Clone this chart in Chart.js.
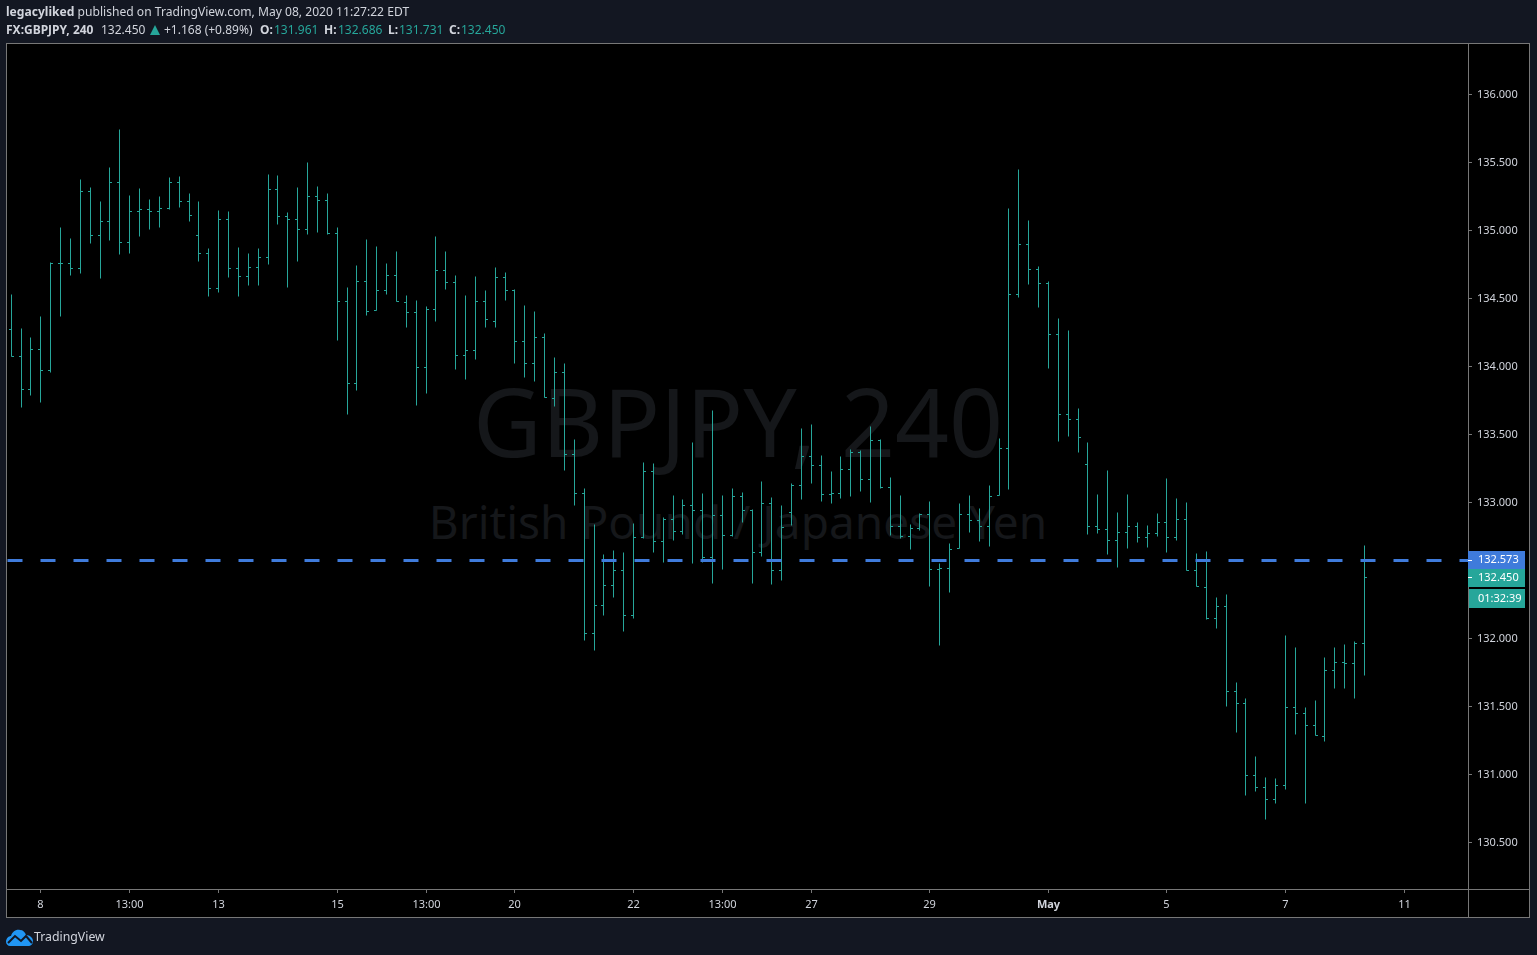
<!DOCTYPE html>
<html>
<head>
<meta charset="utf-8">
<title>GBPJPY, 240</title>
<script src="https://cdn.jsdelivr.net/npm/chart.js@4"></script>
<style>
    html, body { margin: 0; padding: 0; width: 1537px; height: 955px; overflow: hidden; background: #131722; }
    body { font-family: "Noto Sans", sans-serif; font-size: 12px; color: #d1d4dc; }
    #panel { position: absolute; left: 6px; top: 43px; width: 1524px; height: 875px; box-sizing: border-box; border: 1px solid #777; background: #000; }
    .rule { position: absolute; background: #777; }
    #mainChart { position: absolute; left: 0; top: 0; }
    .t { position: absolute; white-space: nowrap; line-height: 16px; }
    .b { font-weight: 700; }
    .g { color: #26a69a; }
    .wm { position: absolute; white-space: nowrap; color: #15171a; text-align: center; }
</style>
</head>
<body>
<div id="panel"></div>
<div class="rule" style="left:1468px;top:44px;width:1px;height:874px;"></div>
<div class="rule" style="left:7px;top:889px;width:1523px;height:1px;"></div>
<div class="wm" style="left:438px;top:356px;width:600px;font-size:94.5px;line-height:130px;">GBPJPY, 240</div>
<div class="wm" style="left:338px;top:488px;width:800px;font-size:46px;line-height:66px;">British Pound / Japanese Yen</div>
<canvas id="mainChart" width="1537" height="955"></canvas>

<div class="t" style="left:6px;top:4px;font-size:12.1px;"><span class="b">legacyliked</span> published on TradingView.com, May 08, 2020 11:27:22 EDT</div>
<div class="t b" style="left:6px;top:22px;">FX:GBPJPY, 240</div>
<div class="t" style="left:101px;top:22px;">132.450</div>
<svg style="position:absolute;left:150px;top:25px;" width="10" height="10"><path d="M5 0 L10 10 L0 10 Z" fill="#26a69a"/></svg>
<div class="t" style="left:164px;top:22px;">+1.168 (+0.89%)</div>
<div class="t b" style="left:260px;top:22px;">O:</div><div class="t g" style="left:274px;top:22px;">131.961</div>
<div class="t b" style="left:324px;top:22px;">H:</div><div class="t g" style="left:338px;top:22px;">132.686</div>
<div class="t b" style="left:388px;top:22px;">L:</div><div class="t g" style="left:399px;top:22px;">131.731</div>
<div class="t b" style="left:449px;top:22px;">C:</div><div class="t g" style="left:461px;top:22px;">132.450</div>

<svg style="position:absolute;left:6px;top:928px;" width="27" height="18" viewBox="0 0 27 18">
    <path d="M0 14 C0 10 3 8 5 8 C6 4 10 1 14 2 C17 2 19 4 20 7 C24 7 27 10 27 13 C27 16 25 18 22 18 L4 18 C2 18 0 16 0 14 Z" fill="#2196f3"/>
    <path d="M2 15 L9 8 L15 13 L20 8 L26 15" fill="none" stroke="#131722" stroke-width="2"/>
</svg>
<div class="t" style="left:34px;top:929px;font-size:12.3px;">TradingView</div>

<script>
// 240 minute bars
const opens = [
    134.274, 134.075, 133.833, 134.127, 133.972, 134.759, 134.759, 134.722, 135.288, 134.965,
    135.068, 135.355, 134.913, 135.141, 135.156, 135.141, 135.163, 135.355, 135.215, 134.965,
    134.832, 134.575, 135.082, 134.722, 134.663, 134.730, 134.803, 135.303, 135.105, 135.082,
    135.009, 135.252, 135.222, 134.980, 134.480, 133.877, 134.627, 134.413, 134.560, 134.671,
    134.472, 134.399, 133.994, 134.421, 134.707, 134.619, 134.082, 134.119, 134.480, 134.332,
    134.656, 134.560, 134.185, 134.024, 134.215, 133.766, 133.957, 133.355, 133.068, 132.038,
    132.244, 132.391, 132.502, 132.171, 132.744, 133.230, 132.715, 132.877, 132.788, 132.980,
    132.943, 132.597, 132.906, 132.759, 133.046, 132.943, 132.634, 132.994, 132.502, 132.925,
    133.127, 133.340, 133.274, 133.060, 133.068, 133.244, 133.369, 133.171, 133.458, 133.112,
    132.825, 132.752, 132.810, 132.913, 132.509, 132.516, 132.663, 132.913, 132.869, 132.825,
    133.053, 133.399, 134.531, 134.899, 134.715, 134.612, 134.237, 133.649, 133.612, 133.281,
    132.825, 132.803, 132.722, 132.781, 132.825, 132.744, 132.774, 132.855, 132.744, 132.877,
    132.502, 132.377, 132.149, 132.237, 131.612, 131.524, 130.994, 130.906, 130.818, 130.921,
    131.494, 131.450, 131.362, 131.281, 131.766, 131.825, 131.818, 131.961
];
const highs = [
    134.526, 134.281, 134.215, 134.364, 134.766, 135.024, 134.943, 135.377, 135.318, 135.215,
    135.465, 135.744, 135.259, 135.310, 135.230, 135.252, 135.391, 135.399, 135.274, 135.215,
    134.869, 135.149, 135.141, 134.877, 134.832, 134.869, 135.413, 135.406, 135.134, 135.318,
    135.502, 135.325, 135.274, 135.024, 134.582, 134.744, 134.935, 134.884, 134.759, 134.847,
    134.524, 134.487, 134.443, 134.957, 134.847, 134.671, 134.524, 134.663, 134.560, 134.730,
    134.693, 134.568, 134.450, 134.406, 134.244, 134.068, 134.024, 133.465, 133.105, 132.840,
    132.614, 132.649, 132.634, 132.847, 133.296, 133.288, 132.891, 133.053, 133.024, 133.443,
    133.068, 133.678, 133.053, 133.105, 133.075, 132.947, 133.156, 133.038, 132.980, 133.141,
    133.546, 133.575, 133.347, 133.230, 133.340, 133.391, 133.384, 133.560, 133.465, 133.185,
    133.053, 132.840, 132.921, 133.009, 132.553, 132.700, 132.994, 133.053, 132.957, 133.127,
    133.472, 135.163, 135.450, 135.075, 134.737, 134.627, 134.355, 134.266, 133.693, 133.443,
    133.060, 133.237, 132.928, 133.060, 132.855, 132.833, 132.921, 133.178, 133.031, 133.002,
    132.627, 132.641, 132.303, 132.325, 131.678, 131.560, 131.134, 130.980, 130.972, 132.024,
    131.935, 131.494, 131.546, 131.862, 131.935, 131.958, 131.980, 132.686
];
const lows = [
    134.075, 133.697, 133.785, 133.734, 133.955, 134.366, 134.668, 134.682, 134.903, 134.646,
    134.925, 134.822, 134.830, 134.955, 135.006, 135.021, 135.156, 135.168, 135.065, 134.771,
    134.513, 134.543, 134.653, 134.513, 134.594, 134.594, 134.749, 135.043, 134.580, 134.771,
    134.969, 134.984, 134.969, 134.190, 133.646, 133.822, 134.374, 134.410, 134.528, 134.480,
    134.285, 133.712, 133.800, 134.330, 134.565, 133.977, 133.903, 134.050, 134.285, 134.285,
    134.484, 134.021, 133.918, 133.888, 133.771, 133.705, 133.234, 132.977, 131.984, 131.910,
    132.168, 132.300, 132.050, 132.146, 132.737, 132.631, 132.557, 132.719, 132.763, 132.550,
    132.557, 132.403, 132.506, 132.749, 132.852, 132.403, 132.602, 132.396, 132.425, 132.830,
    133.021, 133.138, 133.006, 132.991, 133.031, 133.043, 133.080, 132.999, 133.105, 132.756,
    132.734, 132.653, 132.796, 132.381, 131.947, 132.337, 132.660, 132.778, 132.712, 132.675,
    133.050, 133.094, 134.506, 134.602, 134.432, 133.984, 133.447, 133.484, 133.366, 132.763,
    132.771, 132.616, 132.521, 132.660, 132.705, 132.668, 132.749, 132.631, 132.719, 132.499,
    132.381, 132.138, 132.072, 131.499, 131.307, 130.844, 130.874, 130.668, 130.785, 130.888,
    131.293, 130.785, 131.285, 131.241, 131.631, 131.631, 131.558, 131.731
];
const closes = [
    134.075, 133.833, 134.127, 133.972, 134.759, 134.759, 134.722, 135.288, 134.965, 135.068,
    135.355, 134.913, 135.141, 135.156, 135.141, 135.163, 135.355, 135.215, 135.112, 134.832,
    134.575, 135.082, 134.722, 134.663, 134.730, 134.803, 135.303, 135.105, 135.082, 135.009,
    135.252, 135.222, 134.980, 134.480, 133.877, 134.627, 134.406, 134.560, 134.671, 134.480,
    134.399, 133.994, 134.421, 134.707, 134.619, 134.082, 134.119, 134.480, 134.347, 134.656,
    134.560, 134.185, 134.024, 134.215, 133.774, 133.957, 133.355, 133.068, 132.038, 132.244,
    132.391, 132.502, 132.171, 132.744, 133.230, 132.715, 132.877, 132.788, 132.980, 132.943,
    132.597, 132.906, 132.759, 133.046, 132.943, 132.634, 132.994, 132.502, 132.818, 133.127,
    133.340, 133.274, 133.060, 133.068, 133.244, 133.369, 133.171, 133.458, 133.112, 132.825,
    132.752, 132.810, 132.913, 132.509, 132.516, 132.656, 132.913, 132.869, 132.825, 133.046,
    133.399, 134.531, 134.899, 134.715, 134.612, 134.237, 133.649, 133.612, 133.480, 132.825,
    132.803, 132.722, 132.781, 132.825, 132.744, 132.774, 132.855, 132.744, 132.877, 132.502,
    132.384, 132.149, 132.237, 131.612, 131.524, 130.994, 130.906, 130.818, 130.921, 131.494,
    131.450, 131.362, 131.288, 131.766, 131.825, 131.818, 131.961, 132.450
];

const xTickIndex = [3, 12, 21, 33, 42, 51, 63, 72, 81, 93, 105, 117, 129, 141];
const xTickLabels = ['8', '13:00', '13', '15', '13:00', '20', '22', '13:00', '27', '29', 'May', '5', '7', '11'];
const priceTicks = [130.5, 131, 131.5, 132, 132.5, 133, 133.5, 134, 134.5, 135, 135.5, 136];
const priceLine = 132.573;
const lastClose = 132.450;
const countdown = '01:32:39';

const barColor = '#26a69a';
const lineColor = '#3f7bdb';
const axisColor = '#777777';
const textColor = '#d1d4dc';
const labelFont = '"Noto Sans", sans-serif';

// range of the two axes
const xMin = -0.4252;
const xMax = 147.479;
const yMin = 130.158;
const yMax = 136.371;

// tradingview snaps everything to whole pixels, so the 1px marks stay sharp
function snapToPixels(scale) {
    if (scale.snapped) return;
    scale.snapped = true;
    const original = scale.getPixelForValue;
    scale.getPixelForValue = function (value, index) {
        return Math.floor(original.call(scale, value, index)) + 0.5;
    };
}

// boxes on the price axis
const priceLabels = {
    id: 'priceLabels',
    afterDraw(chart) {
        const ctx = chart.ctx;
        const y = chart.scales.y;
        const left = chart.chartArea.right;
        const box = (top, height, color, text, x0) => {
            ctx.fillStyle = color;
            ctx.fillRect(x0, top, 1525 - x0, height);
            ctx.fillStyle = '#ffffff';
            ctx.font = '11px ' + labelFont;
            ctx.textAlign = 'left';
            ctx.textBaseline = 'middle';
            ctx.fillText(text, 1478, top + height / 2);
        };
        const lineY = y.getPixelForValue(priceLine);
        const closeY = y.getPixelForValue(lastClose);
        box(lineY - 9.5, 18, lineColor, priceLine.toFixed(3), left);
        box(closeY - 8.5, 18, barColor, lastClose.toFixed(3), left);
        box(closeY + 11.5, 19, barColor, countdown, left + 1);
        ctx.fillStyle = '#ffffff';
        ctx.fillRect(left, lineY - 0.5, 4, 1);
        ctx.fillRect(left, closeY - 0.5, 4, 1);
    }
};

function createMainChart() {
    const ctx = document.getElementById('mainChart').getContext('2d');
    const index = opens.map((o, i) => i);

    new Chart(ctx, {
        data: {
            datasets: [
                {
                    type: 'line',
                    data: [{ x: xMin, y: priceLine }, { x: xMax, y: priceLine }],
                    borderColor: lineColor,
                    borderWidth: 3,
                    borderDash: [15, 18],
                    pointRadius: 0,
                    order: 0
                },
                {
                    type: 'bar',
                    data: index.map(i => ({ x: i, y: [lows[i], highs[i]] })),
                    backgroundColor: barColor,
                    barThickness: 1,
                    inflateAmount: 0,
                    order: 1
                },
                {
                    type: 'line',
                    showLine: false,
                    data: index.map(i => ({ x: i, y: opens[i] })),
                    pointStyle: 'dash',
                    pointRotation: 180,
                    pointRadius: 2.5,
                    pointBorderWidth: 1,
                    pointBorderColor: barColor,
                    order: 2
                },
                {
                    type: 'line',
                    showLine: false,
                    data: index.map(i => ({ x: i, y: closes[i] })),
                    pointStyle: 'dash',
                    pointRadius: 2.5,
                    pointBorderWidth: 1,
                    pointBorderColor: barColor,
                    order: 2
                }
            ]
        },
        options: {
            responsive: false,
            animation: false,
            events: [],
            layout: { padding: { left: 7, right: 7, top: 44, bottom: 37 } },
            plugins: {
                legend: { display: false },
                tooltip: { enabled: false }
            },
            scales: {
                x: {
                    type: 'linear',
                    offset: false,
                    min: xMin,
                    max: xMax,
                    afterFit: scale => { scale.height = 29; },
                    afterUpdate: snapToPixels,
                    afterBuildTicks: scale => { scale.ticks = xTickIndex.map(v => ({ value: v })); },
                    grid: { offset: false, drawOnChartArea: false, tickLength: 4, color: axisColor },
                    border: { color: axisColor },
                    ticks: {
                        autoSkip: false,
                        maxRotation: 0,
                        padding: 5,
                        color: textColor,
                        font: c => ({
                            family: labelFont,
                            size: 11,
                            weight: c.tick && c.tick.value === xTickIndex[xTickLabels.indexOf('May')] ? 'bold' : 'normal'
                        }),
                        callback: v => xTickLabels[xTickIndex.indexOf(v)]
                    }
                },
                y: {
                    type: 'linear',
                    position: 'right',
                    min: yMin,
                    max: yMax,
                    afterFit: scale => { scale.width = 62; },
                    afterUpdate: snapToPixels,
                    afterBuildTicks: scale => { scale.ticks = priceTicks.map(v => ({ value: v })); },
                    grid: { drawOnChartArea: false, tickLength: 4, color: axisColor },
                    border: { color: axisColor },
                    ticks: {
                        padding: 5,
                        color: textColor,
                        font: { family: labelFont, size: 11 },
                        callback: v => v.toFixed(3)
                    }
                }
            }
        },
        plugins: [priceLabels]
    });
}

createMainChart();
</script>
</body>
</html>
